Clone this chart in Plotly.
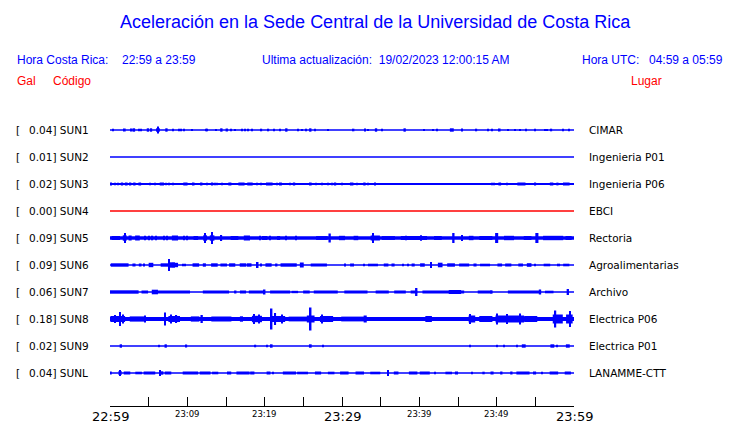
import plotly.graph_objects as go

# ---------------- data ----------------
STATIONS = ["SUN1", "SUN2", "SUN3", "SUN4", "SUN5", "SUN6", "SUN7", "SUN8", "SUN9", "SUNL"]
PEAK_GAL = ["0.04", "0.01", "0.02", "0.00", "0.09", "0.09", "0.06", "0.18", "0.02", "0.04"]
PLACES = ["CIMAR", "Ingenieria P01", "Ingenieria P06", "EBCI", "Rectoria",
          "Agroalimentarias", "Archivo", "Electrica P06", "Electrica P01", "LANAMME-CTT"]
TICK_MINUTES = [0, 5, 10, 15, 20, 25, 30, 35, 40, 45, 50, 55, 60]
TICK_LABELS = {0: "22:59", 10: "23:09", 20: "23:19", 30: "23:29", 40: "23:39", 50: "23:49", 60: "23:59"}
MAJOR_LABELS = [0, 30, 60]

# envelope events per station: (minute after 22:59, duration in minutes, half amplitude)
SUN1_EVENTS = [(0.4,0.15,1.3),(1.9,0.25,1.5),(2.8,0.25,1.5),(3.1,0.3,1.7),(3.7,0.15,1.3),(4.0,0.15,1.3),
               (4.9,0.3,1.7),(5.3,0.3,1.7),(6.2,0.5,1.7),(6.25,0.15,3.5),(7.3,0.3,1.7),(8.2,0.15,1.3),
               (8.9,0.15,1.3),(9.2,0.15,1.3),(9.6,0.15,1.3),(10.6,0.15,1.0),(12.4,0.15,1.3),(12.6,0.15,1.3),
               (13.7,0.15,1.0),(14.4,0.3,1.7),(15.1,0.3,1.5),(15.7,0.15,1.3),(16.2,0.15,1.0),(17.1,0.15,1.3),
               (17.5,0.15,1.3),(17.8,0.15,1.3),(18.4,0.15,1.3),(19.6,0.15,1.3),(20.5,0.15,1.3),(21.2,0.2,1.3),
               (22.0,0.15,1.3),(22.8,0.3,1.7),(24.3,0.15,1.3),(24.8,0.15,1.0),(25.4,0.15,1.3),(25.9,0.3,1.7),
               (26.5,0.15,1.3),(28.2,0.15,1.0),(31.5,0.2,1.3),(33.0,0.2,1.5),(33.4,0.15,1.0),(34.4,0.3,1.7),
               (35.2,0.15,1.3),(38.1,0.3,1.7),(40.6,0.15,1.0),(41.8,0.15,1.0),(42.3,0.15,1.3),(44.2,0.5,1.7),
               (45.5,0.2,1.5),(47.4,0.15,1.3),(48.9,0.15,1.3),(49.4,0.15,1.3),(50.4,0.2,1.5),(51.5,0.15,1.0),
               (52.4,0.15,1.0),(53.0,0.15,1.0),(53.8,0.15,1.3),(55.0,0.15,1.3),(56.2,0.15,1.0),(56.5,0.15,1.0),
               (57.1,0.15,1.3),(58.6,0.15,1.3),(59.3,0.15,1.3)]
SUN2_EVENTS = []
SUN3_EVENTS = [(0.13,0.2,1.5),(0.65,0.15,1.2),(1.0,0.15,1.2),(1.55,0.3,1.5),(2.1,0.35,1.5),(2.6,0.3,1.5),
               (3.15,0.3,1.5),(3.85,0.35,1.5),(5.2,0.15,1.2),(5.8,0.15,1.2),(6.7,0.55,1.5),(7.3,0.15,1.2),
               (7.6,0.15,1.2),(8.2,0.15,1.2),(9.75,0.55,1.5),(10.8,0.25,1.5),(11.8,0.3,1.5),(12.5,0.15,1.2),
               (13.2,0.3,1.5),(13.6,0.15,1.2),(13.9,0.15,1.2),(14.5,0.15,1.2),(15.5,0.4,1.5),(17.0,0.8,1.5),
               (18.1,0.7,1.5),(19.0,0.15,1.2),(19.5,0.15,1.2),(20.6,0.85,1.5),(21.55,0.15,1.2),(22.1,0.25,1.5),
               (23.3,0.15,1.2),(23.8,0.3,1.5),(25.9,0.35,1.5),(26.7,0.15,1.2),(27.4,0.15,1.2),(28.2,0.15,1.2),
               (28.7,0.15,1.2),(29.1,0.3,1.5),(30.0,0.15,1.2),(31.25,0.45,1.5),(32.0,0.15,1.2),(32.9,0.3,1.5),
               (33.4,0.15,1.2),(34.3,0.2,1.5),(38.9,0.15,1.0),(40.3,0.15,1.0),(41.2,0.15,1.0),(43.5,0.15,1.0),
               (44.2,0.15,1.0),(46.7,0.15,1.0),(49.35,0.15,1.2),(49.7,0.15,1.2),(50.4,0.35,1.5),(51.3,0.15,1.2),
               (53.2,1.05,1.5),(55.0,0.2,1.5),(57.1,0.45,1.5),(57.8,0.15,1.2),(58.0,0.15,1.2),(59.0,0.85,1.5)]
SUN4_EVENTS = []
SUN5_EVENTS = [(0.75,1.1,2.0),(1.95,0.15,5.0),(1.9,0.5,2.7),(2.6,0.4,2.5),(3.55,0.6,2.5),(4.5,0.15,2.3),
               (5.0,0.15,2.3),(5.5,0.15,2.3),(6.0,0.15,2.2),(7.0,0.15,2.3),(7.4,0.15,2.3),(8.4,0.8,2.5),
               (9.6,0.15,2.3),(10.0,0.15,2.3),(11.1,0.6,2.0),(12.3,0.5,2.7),(12.3,0.15,5.0),(13.2,0.6,2.7),
               (13.2,0.15,6.0),(14.4,0.2,3.0),(16.1,1.0,2.0),(17.7,0.8,2.5),(19.4,0.15,2.3),(20.0,0.7,2.0),
               (20.7,0.15,2.3),(21.8,0.4,2.0),(22.8,0.15,2.3),(24.1,0.15,2.3),(27.4,1.5,1.9),(28.4,0.3,4.5),
               (30.0,0.8,2.2),(31.8,0.6,2.2),(34.3,1.2,2.5),(34.0,0.2,5.0),(36.0,1.7,1.9),(38.3,0.15,2.3),
               (39.3,3.4,2.0),(40.2,0.15,2.7),(42.4,1.0,2.0),(44.4,0.3,5.0),(45.5,0.2,3.0),(46.7,0.6,2.2),
               (48.6,1.7,2.0),(50.0,0.4,5.0),(51.6,1.3,2.2),(54.0,1.0,2.0),(55.2,0.4,5.0),(57.3,2.6,2.2),
               (59.3,0.8,2.0)]
SUN6_EVENTS = [(1.25,2.3,1.7),(3.1,0.4,1.5),(3.9,0.35,1.5),(4.4,0.2,1.5),(5.3,0.6,2.2),(7.1,1.1,1.7),
               (7.63,0.2,6.0),(8.0,0.8,2.7),(8.4,0.8,2.2),(9.4,0.15,1.3),(9.7,0.15,1.3),(11.1,0.85,1.7),
               (12.2,0.4,1.7),(13.5,0.85,1.7),(14.7,0.85,1.5),(15.8,0.8,1.7),(17.2,0.85,1.7),(18.0,0.6,1.7),
               (19.1,0.2,3.0),(19.5,0.2,1.5),(20.5,0.8,1.7),(21.5,0.3,1.5),(23.1,2.1,1.7),(24.8,0.5,2.5),
               (27.0,2.1,1.5),(30.4,0.2,1.5),(31.3,0.5,1.5),(32.8,0.15,1.3),(34.0,1.3,1.3),(35.7,0.6,1.5),
               (36.6,0.4,1.5),(37.9,0.15,1.3),(38.6,0.15,1.3),(39.2,0.4,1.5),(40.4,0.6,1.7),(41.5,0.2,3.0),
               (42.7,0.6,2.3),(44.1,1.0,1.7),(45.8,1.3,1.5),(47.2,0.4,1.5),(48.5,1.3,1.3),(50.4,0.6,1.5),
               (51.5,0.8,1.5),(53.1,0.6,1.5),(54.2,0.6,1.8),(55.0,0.15,1.3),(56.5,0.85,1.3),(58.0,0.4,1.3),
               (59.0,0.8,1.3)]
SUN7_EVENTS = [(1.85,3.7,1.7),(4.5,0.85,1.5),(5.8,0.8,2.3),(8.1,4.5,1.5),(13.7,3.4,1.5),(16.2,0.3,1.5),
               (17.2,0.8,1.5),(18.9,1.9,1.5),(20.0,0.2,2.5),(22.0,2.6,1.5),(23.9,0.85,1.2),(25.4,0.85,1.5),
               (27.9,3.1,1.5),(31.8,3.0,1.5),(35.2,1.7,1.5),(37.5,1.5,1.5),(39.3,0.85,1.5),(39.6,0.3,4.0),
               (43.1,5.4,1.5),(44.6,1.6,2.0),(48.5,1.9,1.5),(49.3,0.3,1.5),(53.6,4.3,1.5),(55.6,0.3,2.5),
               (56.8,1.1,1.3),(59.2,0.3,3.0)]
SUN8_EVENTS = [(1.0,1.9,3.0),(1.3,0.2,7.0),(0.6,0.15,4.0),(1.7,0.15,4.5),(3.6,2.1,2.6),(4.5,0.2,3.5),
               (7.1,0.2,6.5),(8.3,1.5,3.0),(7.9,0.15,4.5),(8.6,0.15,4.0),(11.0,1.1,2.6),(11.85,0.3,4.0),
               (14.4,2.6,2.5),(17.0,0.4,2.7),(19.0,1.3,3.2),(18.6,0.15,5.0),(19.3,0.15,4.5),(21.8,1.7,3.0),
               (20.9,0.2,10.5),(21.4,0.15,6.0),(22.2,0.15,4.5),(24.4,2.6,2.4),(25.95,1.0,3.5),(25.95,0.2,11.5),
               (28.0,1.7,3.0),(27.4,0.15,4.5),(31.4,3.0,2.4),(33.0,0.4,3.5),(41.2,0.85,3.0),(46.8,0.85,3.5),
               (46.5,0.15,5.0),(48.6,1.7,3.0),(50.6,1.5,3.5),(50.1,0.15,5.5),(51.3,0.15,5.0),(52.5,2.1,3.5),
               (53.0,0.15,5.5),(54.4,1.7,3.0),(57.9,1.3,4.5),(57.6,0.2,8.5),(59.4,0.85,4.5),(59.5,0.2,8.0)]
SUN9_EVENTS = [(1.4,0.3,1.7),(6.4,0.15,1.2),(7.2,0.3,1.7),(9.9,0.15,1.5),(18.8,0.2,1.3),(20.3,0.15,1.2),
               (20.9,0.25,1.7),(25.9,0.35,1.7),(27.5,0.15,1.2),(46.6,0.15,1.2),(50.1,0.15,1.2),(50.9,0.15,1.2),
               (52.6,0.15,1.2),(53.5,0.5,1.7),(57.2,0.5,1.7),(57.8,0.15,1.2),(59.2,0.5,1.7)]
SUNL_EVENTS = [(0.1,0.25,1.5),(1.3,0.4,2.0),(1.3,0.15,3.0),(2.2,0.85,1.5),(3.7,0.85,1.3),(5.1,1.5,1.5),
               (6.7,0.4,1.7),(6.5,0.15,3.0),(7.5,0.85,1.5),(10.4,2.0,1.5),(12.3,1.4,1.5),(13.6,0.8,1.3),
               (15.4,0.55,1.5),(17.2,1.7,1.5),(18.4,0.55,1.5),(20.5,0.5,1.5),(21.1,0.15,1.3),(23.2,1.7,1.5),
               (24.9,1.4,1.3),(26.9,0.8,1.5),(28.6,0.85,1.3),(30.3,1.1,1.5),(32.3,1.1,1.5),(34.3,1.3,1.3),
               (35.9,0.15,3.0),(37.0,0.6,1.5),(39.2,1.1,1.5),(40.7,1.3,1.5),(42.0,0.15,1.3),(43.8,0.85,1.3),
               (44.8,0.4,1.5),(46.8,0.15,1.3),(48.3,0.3,1.3),(49.4,0.4,1.5),(50.6,0.3,1.5),(51.9,0.3,1.5),
               (53.4,1.7,1.5),(54.9,0.4,1.5),(55.9,0.15,1.3),(57.4,1.1,1.5),(59.2,0.8,1.5)]
EVENTS = [SUN1_EVENTS, SUN2_EVENTS, SUN3_EVENTS, SUN4_EVENTS, SUN5_EVENTS,
          SUN6_EVENTS, SUN7_EVENTS, SUN8_EVENTS, SUN9_EVENTS, SUNL_EVENTS]

# ---------------- styles ----------------
BLUE = "#0000FF"
RED = "#FF0000"
TRACE_COLORS = [BLUE, BLUE, BLUE, RED, BLUE, BLUE, BLUE, BLUE, BLUE, BLUE]
BASE_WIDTHS = [1.5, 1.5, 2.0, 1.3, 3.5, 1.5, 1.5, 4.0, 1.5, 1.5]
ROW_PX = 27.0

OFF = 8                       # page body margin
PAGE_W, PAGE_H = 740, 423
W, H = PAGE_W - OFF, PAGE_H - OFF
PL, PR, PT, PB = 110, 574, 116, 406   # plot area in page pixels


def px(x):
    return (x - PL) / (PR - PL)


def py(y):
    return (PB - y) / (PB - PT)


fig = go.Figure()
for i, (name, ev) in enumerate(zip(STATIONS, EVENTS)):
    row = -i
    col = TRACE_COLORS[i]
    fig.add_trace(go.Scatter(x=[0, 60], y=[row, row], mode="lines",
                             line=dict(color=col, width=BASE_WIDTHS[i]), hoverinfo="skip"))
    if ev:
        xs = [e[0] for e in ev]
        ws = [max(e[1], 0.15) for e in ev]
        amps = [e[2] / ROW_PX for e in ev]
        fig.add_trace(go.Bar(x=xs, y=[2 * a for a in amps], base=[row - a for a in amps], width=ws,
                             marker=dict(color=col, line=dict(width=0)), hoverinfo="skip"))

top_units = (130 - PT) / ROW_PX
bottom_units = -9 - (PB - 373) / ROW_PX

fig.update_layout(
    width=W, height=H, margin=dict(l=PL - OFF, r=PAGE_W - PR, t=PT - OFF, b=PAGE_H - PB),
    paper_bgcolor="white", plot_bgcolor="white", showlegend=False, barmode="overlay",
    xaxis=dict(range=[0, 60], showgrid=False, zeroline=False, showline=True, linecolor="black",
               linewidth=1, ticks="inside", ticklen=9, tickcolor="black", tickwidth=1,
               tickvals=TICK_MINUTES, showticklabels=False, fixedrange=True),
    yaxis=dict(range=[bottom_units, top_units], visible=False, fixedrange=True),
)

ann = []


def text(x, y, s, size, color="black", family="DejaVu Sans", anchor="left"):
    ann.append(dict(x=px(x), y=py(y), xref="paper", yref="paper", text=s, showarrow=False,
                    xanchor=anchor, yanchor="middle", font=dict(size=size, color=color, family=family)))


LIB = "Liberation Sans"
text(375, 22, "Aceleración en la Sede Central de la Universidad de Costa Rica", 18, BLUE, LIB, "center")
text(15, 60, "Hora Costa Rica:", 12, BLUE, LIB)
text(120, 60, "22:59 a 23:59", 12, BLUE, LIB)
text(260, 60, "Ultima actualización:\u00a0\u00a019/02/2023 12:00:15 AM", 12, BLUE, LIB)
text(580, 60, "Hora UTC:", 12, BLUE, LIB)
text(725, 60, "04:59 a 05:59", 12, BLUE, LIB, "right")
text(15, 81, "Gal", 12, RED, LIB)
text(51, 81, "Código", 12, RED, LIB)
text(629, 81, "Lugar", 12, RED, LIB)

for i, (name, g, place) in enumerate(zip(STATIONS, PEAK_GAL, PLACES)):
    y = 130 + i * ROW_PX
    text(14, y, "[", 10.5)
    text(27, y, f"{g}] {name}", 10.5)
    text(587, y, place, 10.5)

for m, lab in TICK_LABELS.items():
    big = m in MAJOR_LABELS
    ann.append(dict(x=m, y=py(416 if big else 414), xref="x", yref="paper", text=lab, showarrow=False,
                    xanchor="center", yanchor="middle",
                    font=dict(size=13 if big else 8.5, color="black", family="DejaVu Sans")))

fig.update_layout(annotations=ann)
fig.write_html("out.html")
